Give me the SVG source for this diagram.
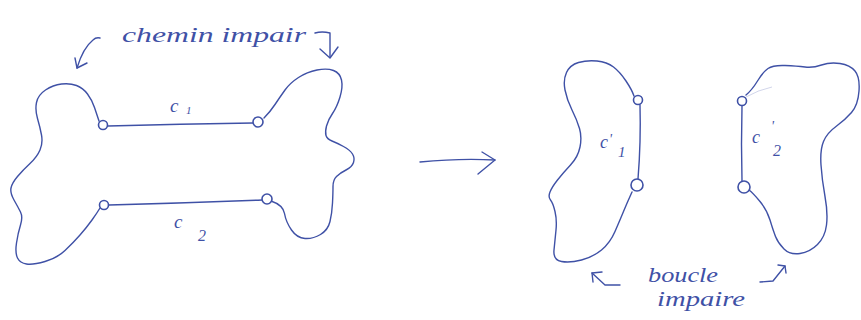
<svg xmlns="http://www.w3.org/2000/svg" width="861" height="320" viewBox="0 0 861 320">
<style>
.ink{fill:none;stroke:#3f51a6;stroke-width:1.4;stroke-linecap:round;stroke-linejoin:round}
.node{fill:#ffffff;stroke:#3f51a6;stroke-width:1.6}
.hw{font-family:"Liberation Serif","DejaVu Serif",serif;font-style:italic;fill:#3f51a6}
</style>
<rect width="861" height="320" fill="#ffffff"/>

<g id="bone">
<path class="ink" d="M99,121 Q97,115 94.5,107.5 Q92,100 87.5,94 Q83,88 76.5,85.5 Q70,83 61.5,84 Q53,85 45.5,90 Q38,95 36.5,102.5 Q35,110 37.5,118.5 Q40,127 41.5,135 Q43,143 40,150 Q37,157 30,163.5 Q23,170 17.5,176.5 Q12,183 11,188 Q10,193 14,200 Q18,207 20.5,212 Q23,217 20.5,225 Q18,233 16.5,243 Q15,253 17.5,258 Q20,263 26.5,264 Q33,265 45,261.5 Q57,258 65,250.5 Q73,243 80,235 Q87,227 92,220 Q97,213 100,208"/>
<path class="ink" d="M271,201 Q283,205 284.5,213.5 Q286,222 291.5,230 Q297,238 305,238.5 Q313,239 320.5,234.5 Q328,230 330,221.5 Q332,213 332.5,203 Q333,193 333,186.5 Q333,180 336.5,176.5 Q340,173 346,170 Q352,167 353.5,162.5 Q355,158 352.5,154 Q350,150 343.5,146.5 Q337,143 332,141 Q327,139 326,135.5 Q325,132 326.5,126 Q328,120 332.5,113.5 Q337,107 340,97 Q343,87 341.5,80 Q340,73 333.5,70.5 Q327,68 317,70 Q307,72 298.5,77.5 Q290,83 285,90 Q280,97 275,104.5 Q270,112 264,118"/>
</g>

<g id="blob-left">
<path class="ink" d="M634,96 Q632,90 626,81 Q620,72 613.5,67 Q607,62 597,61 Q587,60 578.5,62.5 Q570,65 566.5,72.5 Q563,80 565,90 Q567,100 572,110 Q577,120 579.5,128.5 Q582,137 580,147 Q578,157 570.5,165 Q563,173 557.5,180 Q552,187 550,192 Q548,197 550.5,200 Q553,203 555,211.5 Q557,220 556,230 Q555,240 554,250 Q553,260 561.5,261.5 Q570,263 581.5,260 Q593,257 601.5,250 Q610,243 615,231.5 Q620,220 623.5,211.5 Q627,203 632,192"/>
</g>

<g id="blob-right">
<path class="ink" d="M746,95 Q752,90 757.5,81 Q763,72 768,68.5 Q773,65 785,65.5 Q797,66 805,67 Q813,68 821.5,65 Q830,62 840,63.5 Q850,65 855,71 Q860,77 859,91 Q858,105 851.5,112.5 Q845,120 836,126.5 Q827,133 823.5,141.5 Q820,150 821,165 Q822,180 825,196.5 Q828,213 826.5,225 Q825,237 817.5,244.5 Q810,252 800,253.5 Q790,255 784,249 Q778,243 775.5,236.5 Q773,230 770,220 Q767,210 760,201.5 Q753,193 749,190"/>
<path d="M746,97 Q758,90 772,87" fill="none" stroke="#3f51a6" stroke-width="0.8" opacity="0.3"/>
</g>

<g id="connectors">
<path class="ink" d="M108,126 Q180,124 253,123"/>
<path class="ink" d="M109,205 Q185,203 262,200"/>
<path class="ink" d="M640,105 Q641,142 638,179"/>
<path class="ink" d="M742,106 Q741,144 742,181"/>
<path class="ink" d="M420,162 Q460,158 495,160"/>
<path class="ink" d="M482,152 L495,160 L478,174"/>
<path class="ink" d="M100,38 Q96,37 93,40 Q83,48 77,68"/>
<path class="ink" d="M75,58 L77,68 L87,63"/>
<path class="ink" d="M315,33 Q322,31 330,33 L330,57"/>
<path class="ink" d="M320,49 L330,58 L338,47"/>
<path class="ink" d="M620,285 L605,285 L592,273"/>
<path class="ink" d="M602,272 L592,273 L593,282"/>
<path class="ink" d="M760,282 L773,281 L785,266"/>
<path class="ink" d="M778,265 L785,266 L786,273"/>
</g>

<g id="n1"><circle class="node" cx="103" cy="125" r="4.5"/></g>
<g id="n2"><circle class="node" cx="258" cy="122" r="5"/></g>
<g id="n3"><circle class="node" cx="104" cy="205" r="4.5"/></g>
<g id="n4"><circle class="node" cx="267" cy="199" r="5"/></g>
<g id="n5"><circle class="node" cx="638" cy="100" r="4.5"/></g>
<g id="n6"><circle class="node" cx="637" cy="185" r="6"/></g>
<g id="n7"><circle class="node" cx="742" cy="101" r="4.5"/></g>
<g id="n8"><circle class="node" cx="744" cy="187" r="6"/></g>

<g id="labels">
<text class="hw" x="122" y="42" font-size="21" textLength="184" lengthAdjust="spacingAndGlyphs">chemin impair</text>
<text class="hw" x="170" y="112" font-size="19">c</text>
<text class="hw" x="186" y="114" font-size="11">1</text>
<text class="hw" x="174" y="228" font-size="19">c</text>
<text class="hw" x="198" y="241" font-size="16">2</text>
<text class="hw" x="600" y="148" font-size="18">c</text>
<text class="hw" x="609" y="144" font-size="14">'</text>
<text class="hw" x="618" y="157" font-size="15">1</text>
<text class="hw" x="752" y="143" font-size="18">c</text>
<text class="hw" x="771" y="131" font-size="14">'</text>
<text class="hw" x="773" y="156" font-size="16">2</text>
<text class="hw" x="648" y="282" font-size="20" textLength="70" lengthAdjust="spacingAndGlyphs">boucle</text>
<text class="hw" x="657" y="306" font-size="20" textLength="88" lengthAdjust="spacingAndGlyphs">impaire</text>
</g>
</svg>
